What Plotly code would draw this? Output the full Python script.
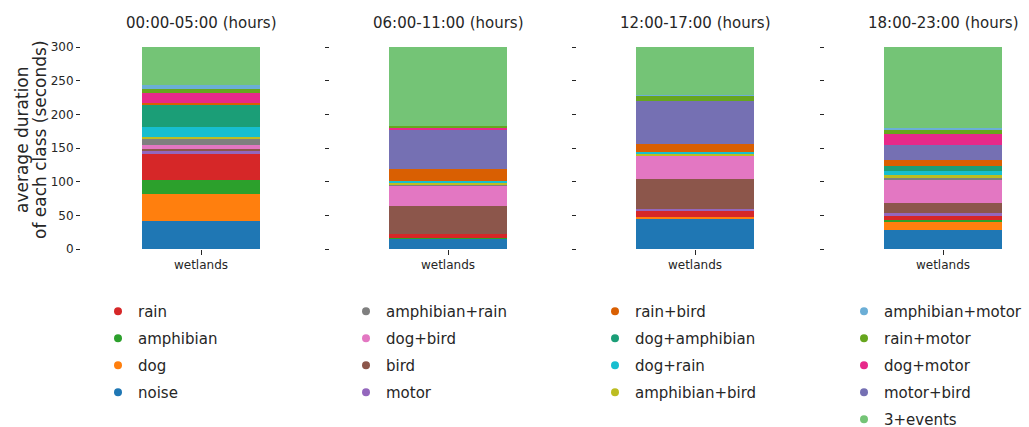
import plotly.graph_objects as go

W_FIG, H_FIG = 1029, 427

periods = ["00:00-05:00 (hours)", "06:00-11:00 (hours)",
           "12:00-17:00 (hours)", "18:00-23:00 (hours)"]
site = ["wetlands"]
y_title_lines = ["average duration", "of each class (seconds)"]

# average seconds per class, one value per period (stacked bottom -> top)
noise = [41.6, 14.9, 46.0, 28.2]
dog = [40.1, 0.0, 1.5, 11.9]
amphibian = [20.8, 2.0, 0.0, 3.0]
rain = [38.6, 6.0, 8.9, 5.9]
motor = [4.4, 0.0, 3.0, 4.5]
bird = [3.0, 41.4, 44.1, 14.8]
dog_bird = [6.0, 29.7, 35.1, 34.6]
amphibian_rain = [8.9, 1.5, 0.0, 3.0]
amphibian_bird = [3.4, 3.0, 3.0, 4.0]
dog_rain = [14.8, 2.5, 2.5, 5.9]
dog_amphibian = [32.7, 0.0, 0.0, 7.9]
rain_bird = [3.0, 17.8, 11.8, 9.0]
motor_bird = [0.0, 59.0, 63.9, 21.8]
dog_motor = [14.4, 2.9, 0.0, 16.3]
rain_motor = [6.4, 2.5, 7.9, 5.9]
amphibian_motor = [5.4, 0.0, 1.5, 3.0]
events_3plus = [56.5, 116.8, 70.8, 120.3]

stack = [
    ("noise", noise, "#1f77b4"),
    ("dog", dog, "#ff7f0e"),
    ("amphibian", amphibian, "#2ca02c"),
    ("rain", rain, "#d62728"),
    ("motor", motor, "#9467bd"),
    ("bird", bird, "#8c564b"),
    ("dog+bird", dog_bird, "#e377c2"),
    ("amphibian+rain", amphibian_rain, "#7f7f7f"),
    ("amphibian+bird", amphibian_bird, "#bcbd22"),
    ("dog+rain", dog_rain, "#17becf"),
    ("dog+amphibian", dog_amphibian, "#1b9e77"),
    ("rain+bird", rain_bird, "#d95f02"),
    ("motor+bird", motor_bird, "#7570b3"),
    ("dog+motor", dog_motor, "#e7298a"),
    ("rain+motor", rain_motor, "#66a61e"),
    ("amphibian+motor", amphibian_motor, "#6baed6"),
    ("3+events", events_3plus, "#74c476"),
]
colors = {name: c for name, _, c in stack}

legend_columns = [
    ["rain", "amphibian", "dog", "noise"],
    ["amphibian+rain", "dog+bird", "bird", "motor"],
    ["rain+bird", "dog+amphibian", "dog+rain", "amphibian+bird"],
    ["amphibian+motor", "rain+motor", "dog+motor", "motor+bird", "3+events"],
]

FONT = "DejaVu Sans"
TXT = "#262626"

# pixel geometry of the panels
axis_left = [81, 330, 577, 825]
bar_center = [201, 448, 695, 943]
axis_w = 200
bar_px = 118
span = 2.0
y_top, y_bot = 47, 249


def px_x(p):
    return p / W_FIG


def px_y(p):
    return 1 - p / H_FIG


fig = go.Figure()

for i in range(4):
    xa = "x" if i == 0 else f"x{i+1}"
    ya = "y" if i == 0 else f"y{i+1}"
    for name, vals, col in stack:
        fig.add_trace(go.Bar(
            x=site, y=[vals[i]], name=name, marker=dict(color=col, line=dict(width=0)),
            width=bar_px / axis_w * span, xaxis=xa, yaxis=ya, showlegend=False,
            hovertemplate=f"{name}: %{{y}}<extra>{periods[i]}</extra>",
        ))

# legend entries drawn as circles, one legend per column
for j, col_names in enumerate(legend_columns):
    lg = "legend" if j == 0 else f"legend{j+1}"
    for name in col_names:
        fig.add_trace(go.Scatter(
            x=[None], y=[None], mode="markers", name=name,
            marker=dict(symbol="circle", size=8, color=colors[name]),
            legend=lg, legendgroup=name, showlegend=True,
        ))

layout = dict(
    width=W_FIG, height=H_FIG,
    margin=dict(l=0, r=0, t=0, b=0, autoexpand=False),
    paper_bgcolor="white", plot_bgcolor="white",
    barmode="stack", bargap=0,
    font=dict(family=FONT, color=TXT, size=12),
    showlegend=True,
)

for i in range(4):
    r0 = -(bar_center[i] - axis_left[i]) / axis_w * span
    xkey = "xaxis" if i == 0 else f"xaxis{i+1}"
    ykey = "yaxis" if i == 0 else f"yaxis{i+1}"
    ya = "y" if i == 0 else f"y{i+1}"
    xa = "x" if i == 0 else f"x{i+1}"
    layout[xkey] = dict(
        domain=[px_x(axis_left[i]), px_x(axis_left[i] + axis_w)],
        anchor=ya, type="category", range=[r0, r0 + span],
        showgrid=False, zeroline=False, showline=False,
        ticks="outside", ticklen=5, tickwidth=1, tickcolor=TXT,
        tickfont=dict(family=FONT, size=12, color=TXT), fixedrange=True,
        automargin=False,
    )
    layout[ykey] = dict(
        domain=[px_y(y_bot), px_y(y_top)], anchor=xa,
        range=[0, 300], tickvals=[0, 50, 100, 150, 200, 250, 300],
        showticklabels=(i == 0),
        showgrid=False, zeroline=False, showline=False,
        ticks="outside", ticklen=4, tickwidth=1, tickcolor=TXT,
        tickfont=dict(family=FONT, size=12, color=TXT), fixedrange=True,
        automargin=False,
    )

legend_x = [98, 346, 595, 844]
for j in range(4):
    key = "legend" if j == 0 else f"legend{j+1}"
    layout[key] = dict(
        x=px_x(legend_x[j]), y=px_y(295), xanchor="left", yanchor="top",
        orientation="v", bgcolor="rgba(0,0,0,0)", borderwidth=0,
        font=dict(family=FONT, size=15, color=TXT),
        tracegroupgap=4.5, itemclick=False, itemdoubleclick=False,
    )

annotations = []
for i, p in enumerate(periods):
    annotations.append(dict(
        text=p, x=px_x(bar_center[i]), y=px_y(23), xref="paper", yref="paper",
        xanchor="center", yanchor="middle", showarrow=False,
        font=dict(family=FONT, size=15, color=TXT),
    ))
for line, xp in zip(y_title_lines, [22, 40]):
    annotations.append(dict(
        text=line, x=px_x(xp), y=px_y(140), xref="paper", yref="paper",
        xanchor="center", yanchor="middle", showarrow=False, textangle=-90,
        font=dict(family=FONT, size=17, color=TXT),
    ))
layout["annotations"] = annotations

fig.update_layout(**layout)
fig.write_html("out.html")
